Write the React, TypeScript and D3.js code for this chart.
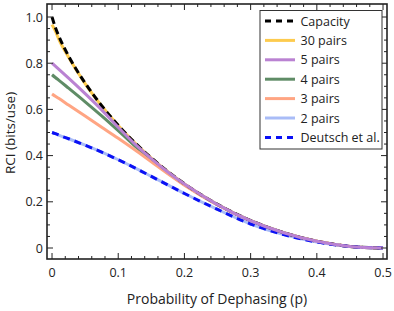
import React, { useEffect, useRef } from "react";
import * as d3 from "d3";

// dephasing probability grid
const pGrid = [0, 0.005, 0.01, 0.025, 0.05, 0.075, 0.1, 0.125, 0.15, 0.175, 0.2, 0.25, 0.3, 0.35, 0.4, 0.45, 0.5];

// values (bits/use)
const capacity = [1.0, 0.955, 0.919, 0.831, 0.714, 0.616, 0.531, 0.456, 0.39, 0.331, 0.278, 0.189, 0.119, 0.066, 0.029, 0.007, 0];
const pairs30 = [0.967, 0.94, 0.905, 0.826, 0.712, 0.615, 0.53, 0.455, 0.389, 0.33, 0.277, 0.188, 0.118, 0.066, 0.029, 0.007, 0];
const pairs5 = [0.8, 0.787, 0.774, 0.735, 0.668, 0.598, 0.523, 0.451, 0.387, 0.329, 0.277, 0.188, 0.118, 0.066, 0.029, 0.007, 0];
const pairs4 = [0.75, 0.738, 0.727, 0.692, 0.633, 0.572, 0.508, 0.442, 0.38, 0.325, 0.275, 0.187, 0.118, 0.066, 0.029, 0.007, 0];
const pairs3 = [0.667, 0.657, 0.648, 0.619, 0.571, 0.523, 0.475, 0.425, 0.373, 0.321, 0.272, 0.186, 0.117, 0.065, 0.029, 0.007, 0];
const pairs2 = [0.5, 0.495, 0.489, 0.473, 0.445, 0.415, 0.382, 0.347, 0.31, 0.273, 0.236, 0.167, 0.104, 0.058, 0.026, 0.007, 0];
const deutsch = [0.5, 0.495, 0.489, 0.473, 0.445, 0.415, 0.382, 0.347, 0.31, 0.273, 0.236, 0.167, 0.104, 0.058, 0.026, 0.007, 0];

const xTicks = [0, 0.1, 0.2, 0.3, 0.4, 0.5];
const yTicks = [0, 0.2, 0.4, 0.6, 0.8, 1.0];

const series = [
  { name: "Capacity", values: capacity, color: "#000000", dash: "7,4" },
  { name: "30 pairs", values: pairs30, color: "#fdcb4e", dash: null },
  { name: "5 pairs", values: pairs5, color: "#ba82d2", dash: null },
  { name: "4 pairs", values: pairs4, color: "#5f8c66", dash: null },
  { name: "3 pairs", values: pairs3, color: "#ffa583", dash: null },
  { name: "2 pairs", values: pairs2, color: "#a9bcf7", dash: null },
  { name: "Deutsch et al.", values: deutsch, color: "#0a10f5", dash: "7,5" },
];
// draw order: purple on top at the tail, dashed over their solid partners
const drawOrder = ["30 pairs", "4 pairs", "3 pairs", "2 pairs", "Capacity", "Deutsch et al.", "5 pairs"];

const FONT = "'Open Sans', 'Noto Sans', sans-serif";

const App = () => {
  const svgRef = useRef<SVGSVGElement>(null);

  useEffect(() => {
    const svg = d3.select(svgRef.current);
    svg.selectAll("*").remove();

    const left = 47, right = 387, top = 4, bottom = 259;
    const x = d3.scaleLinear().domain([-0.0076, 0.506]).range([left, right]);
    const y = d3.scaleLinear().domain([-0.0476, 1.0563]).range([bottom, top]);

    const line = d3
      .line<number>()
      .x((_, i) => x(pGrid[i]))
      .y((d) => y(d))
      .curve(d3.curveMonotoneX);

    const plot = svg.append("g");
    drawOrder.forEach((nm) => {
      const s = series.find((d) => d.name === nm)!;
      plot
        .append("path")
        .attr("d", line(s.values))
        .attr("fill", "none")
        .attr("stroke", s.color)
        .attr("stroke-width", 3)
        .attr("stroke-dasharray", s.dash)
        .attr("stroke-linecap", "butt");
    });

    // frame
    svg
      .append("rect")
      .attr("x", left)
      .attr("y", top)
      .attr("width", right - left)
      .attr("height", bottom - top)
      .attr("fill", "none")
      .attr("stroke", "#222")
      .attr("stroke-width", 1.6);

    // ticks (inside, all four sides)
    const tk = svg.append("g").attr("stroke", "#222").attr("stroke-width", 1);
    d3.range(0, 0.5001, 0.02).forEach((v) => {
      const major = Math.abs(v * 10 - Math.round(v * 10)) < 1e-6;
      const len = major ? 6 : 3;
      tk.append("line").attr("x1", x(v)).attr("x2", x(v)).attr("y1", bottom).attr("y2", bottom - len);
      tk.append("line").attr("x1", x(v)).attr("x2", x(v)).attr("y1", top).attr("y2", top + len);
    });
    d3.range(0, 1.0001, 0.05).forEach((v) => {
      const major = Math.abs(v * 5 - Math.round(v * 5)) < 1e-6;
      const len = major ? 6 : 3;
      tk.append("line").attr("y1", y(v)).attr("y2", y(v)).attr("x1", left).attr("x2", left + len);
      tk.append("line").attr("y1", y(v)).attr("y2", y(v)).attr("x1", right).attr("x2", right - len);
    });

    // tick labels
    svg
      .append("g")
      .selectAll("text")
      .data(xTicks)
      .join("text")
      .attr("x", (d) => x(d))
      .attr("y", 277)
      .attr("text-anchor", "middle")
      .attr("font-family", FONT)
      .attr("font-size", 12.5)
      .attr("fill", "#222")
      .text((d) => (d === 0 ? "0" : d.toFixed(1)));

    svg
      .append("g")
      .selectAll("text")
      .data(yTicks)
      .join("text")
      .attr("x", 43)
      .attr("y", (d) => y(d) + 4.5)
      .attr("text-anchor", "end")
      .attr("font-family", FONT)
      .attr("font-size", 12.5)
      .attr("fill", "#222")
      .text((d) => (d === 0 ? "0" : d.toFixed(1)));

    // axis titles
    svg
      .append("text")
      .attr("x", 217)
      .attr("y", 304)
      .attr("text-anchor", "middle")
      .attr("font-family", FONT)
      .attr("font-size", 14)
      .attr("fill", "#222")
      .text("Probability of Dephasing (p)");

    svg
      .append("text")
      .attr("transform", "translate(15,133) rotate(-90)")
      .attr("text-anchor", "middle")
      .attr("font-family", FONT)
      .attr("font-size", 13.5)
      .attr("fill", "#222")
      .text("RCI (bits/use)");

    // legend
    const lg = svg.append("g");
    lg.append("rect")
      .attr("x", 260)
      .attr("y", 10.5)
      .attr("width", 122)
      .attr("height", 138.5)
      .attr("fill", "white")
      .attr("stroke", "#333")
      .attr("stroke-width", 1);
    series.forEach((s, i) => {
      const yy = 21 + i * 19.4;
      lg.append("line")
        .attr("x1", 265)
        .attr("x2", 295)
        .attr("y1", yy)
        .attr("y2", yy)
        .attr("stroke", s.color)
        .attr("stroke-width", 3)
        .attr("stroke-dasharray", s.dash ? "6,5" : null);
      lg.append("text")
        .attr("x", 300.5)
        .attr("y", yy + 4.5)
        .attr("font-family", FONT)
        .attr("font-size", 12.5)
        .attr("fill", "#222")
        .text(s.name);
    });
  }, []);

  return (
    <svg
      ref={svgRef}
      width={394}
      height={311}
      style={{ position: "absolute", left: 0, top: 0, background: "white" }}
    ></svg>
  );
};

export default App;
